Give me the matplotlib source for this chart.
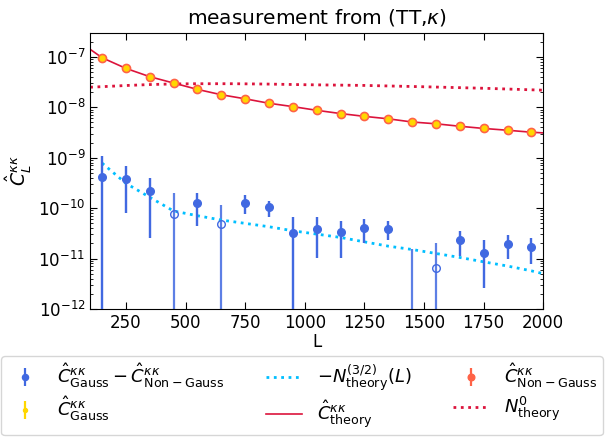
import numpy as np
import matplotlib
matplotlib.use("Agg")
import matplotlib.pyplot as plt

# ---- data ----
L_bins = [150, 250, 350, 450, 550, 650, 750, 850, 950, 1050,
          1150, 1250, 1350, 1450, 1550, 1650, 1750, 1850, 1950]

# Gauss - NonGauss difference (signed) and upper/lower error bar ends
diff_vals = [4.2e-10, 3.8e-10, 2.19e-10, -7.5e-11, 1.25e-10, -4.8e-11, 1.28e-10,
             1.04e-10, 3.24e-11, 3.8e-11, 3.3e-11, 4.07e-11, 3.89e-11, -5e-13,
             -6.4e-12, 2.29e-11, 1.29e-11, 1.95e-11, 1.68e-11]
diff_upper = [1.09e-9, 6.9e-10, 4.03e-10, 2.03e-10, 1.97e-10, 1.15e-10, 1.82e-10,
              1.4e-10, 6.6e-11, 6.6e-11, 5.45e-11, 6.07e-11, 5.45e-11, 1.53e-11,
              2.05e-11, 3.45e-11, 2.32e-11, 2.91e-11, 2.54e-11]
diff_lower = [1e-15, 7.9e-11, 2.6e-11, 1e-15, 4.5e-11, 1e-15, 7.5e-11,
              6.6e-11, 1e-15, 1.03e-11, 1.03e-11, 2.0e-11, 2.29e-11, 1e-15,
              1e-15, 1.11e-11, 2.64e-12, 9.7e-12, 7.9e-12]

# Measured spectra (Gauss and Non-Gauss)
C_gauss = [9.6e-8, 5.9e-8, 4.04e-8, 3.02e-8, 2.26e-8, 1.77e-8, 1.47e-8, 1.2e-8,
           1.03e-8, 8.7e-9, 7.5e-9, 6.6e-9, 5.9e-9, 5.1e-9, 4.7e-9, 4.2e-9,
           3.8e-9, 3.5e-9, 3.2e-9]
C_nongauss = [9.6e-8, 5.9e-8, 4.04e-8, 3.02e-8, 2.26e-8, 1.77e-8, 1.47e-8, 1.2e-8,
              1.03e-8, 8.7e-9, 7.5e-9, 6.6e-9, 5.9e-9, 5.1e-9, 4.7e-9, 4.2e-9,
              3.8e-9, 3.5e-9, 3.2e-9]

# Theory curve
L_theory = [100, 150, 250, 350, 450, 550, 650, 750, 850, 950, 1050, 1150,
            1250, 1350, 1450, 1550, 1650, 1750, 1850, 1950, 2000]
C_theory = [1.41e-7, 9.6e-8, 5.9e-8, 4.04e-8, 3.02e-8, 2.26e-8, 1.77e-8, 1.47e-8,
            1.2e-8, 1.03e-8, 8.7e-9, 7.5e-9, 6.6e-9, 5.9e-9, 5.1e-9, 4.7e-9,
            4.2e-9, 3.8e-9, 3.5e-9, 3.2e-9, 3.1e-9]

# N0 noise
L_N0 = [100, 150, 250, 350, 450, 550, 700, 850, 1000, 1250, 1500, 1750, 2000]
N0 = [2.5e-8, 2.56e-8, 2.7e-8, 2.82e-8, 2.9e-8, 2.93e-8, 2.93e-8, 2.88e-8,
      2.8e-8, 2.71e-8, 2.55e-8, 2.38e-8, 2.18e-8]

# -N^(3/2)
L_N32 = [150, 250, 350, 450, 550, 650, 750, 850, 950, 1050, 1150, 1250,
         1350, 1450, 1550, 1650, 1750, 1850, 1950, 2000]
N32 = [7.8e-10, 3.1e-10, 1.64e-10, 8.75e-11, 7.06e-11, 5.8e-11, 4.98e-11, 4.27e-11,
       3.55e-11, 3.05e-11, 2.62e-11, 2.14e-11, 1.76e-11, 1.51e-11, 1.26e-11,
       1.05e-11, 8.6e-12, 7.1e-12, 5.7e-12, 5.0e-12]

# ---- plot ----
fig = plt.figure(figsize=(6.05, 4.37), dpi=100)
ax = fig.add_axes([0.149, 0.293, 0.749, 0.632])

blue = '#4169E1'
L_arr = np.array(L_bins)
dv = np.array(diff_vals)
yabs = np.abs(dv)
up = np.array(diff_upper)
lo = np.array(diff_lower)
pos = dv > 0
neg = ~pos

# error bars
ax.vlines(L_arr, lo, up, color=blue, lw=1.6, alpha=0.85, zorder=2)
h_diff = ax.errorbar(L_arr[pos], yabs[pos], yerr=[yabs[pos] - lo[pos], up[pos] - yabs[pos]],
                     fmt='o', color=blue, ms=5.5, elinewidth=1.6, capsize=0, zorder=3,
                     label=r'$\hat{C}^{\kappa\kappa}_{\rm Gauss}-\hat{C}^{\kappa\kappa}_{\rm Non-Gauss}$')
ax.plot(L_arr[neg], yabs[neg], 'o', mfc='none', mec=blue, ms=5.5, mew=1.0, zorder=3)

h_n32, = ax.plot(L_N32, N32, ':', color='#00BFFF', lw=2,
                 label=r'$-N^{(3/2)}_{\rm theory}(L)$')
h_th, = ax.plot(L_theory, C_theory, '-', color='#DC143C', lw=1.2,
                label=r'$\hat{C}^{\kappa\kappa}_{\rm theory}$')
h_n0, = ax.plot(L_N0, N0, ':', color='#DC143C', lw=2,
                label=r'$N^{0}_{\rm theory}$')
h_ng = ax.errorbar(L_bins, C_nongauss, yerr=np.array(C_nongauss) * 0.0,
                   fmt='o', color='#FF6347', ms=6, elinewidth=1.6, capsize=0, zorder=4,
                   label=r'$\hat{C}^{\kappa\kappa}_{\rm Non-Gauss}$')
h_g = ax.errorbar(L_bins, C_gauss, yerr=np.array(C_gauss) * 0.0,
                  fmt='o', color='#FFD700', ms=3.6, elinewidth=1.6, capsize=0, zorder=5,
                  label=r'$\hat{C}^{\kappa\kappa}_{\rm Gauss}$')

ax.set_yscale('log')
ax.set_xlim(100, 2000)
ax.set_ylim(1e-12, 3e-7)
ax.set_xticks([250, 500, 750, 1000, 1250, 1500, 1750, 2000])
ax.tick_params(which='both', direction='in', top=True, right=True, labelsize=12)
ax.tick_params(which='major', length=5)
ax.tick_params(which='minor', length=2.5)
ax.set_xlabel('L', fontsize=12, labelpad=1)
ax.set_ylabel(r'$\hat{C}_L^{\kappa\kappa}$', fontsize=13.5, labelpad=3)
ax.set_title(r'measurement from (TT,$\kappa$)', fontsize=14.5, pad=7)

handles = [h_diff, h_g, h_n32, h_th, h_ng, h_n0]
labels = [h.get_label() for h in handles]
leg = fig.legend(handles, labels, loc='lower left', bbox_to_anchor=(0.002, 0.004, 0.994, 0.17),
                 mode='expand', ncol=3, fontsize=13, markerscale=0.8, frameon=True,
                 borderaxespad=0.0, handlelength=2.0, labelspacing=0.25, borderpad=0.3,
                 handletextpad=0.8)
leg.get_frame().set_edgecolor('#cccccc')

fig.savefig('out.png', dpi=100)
